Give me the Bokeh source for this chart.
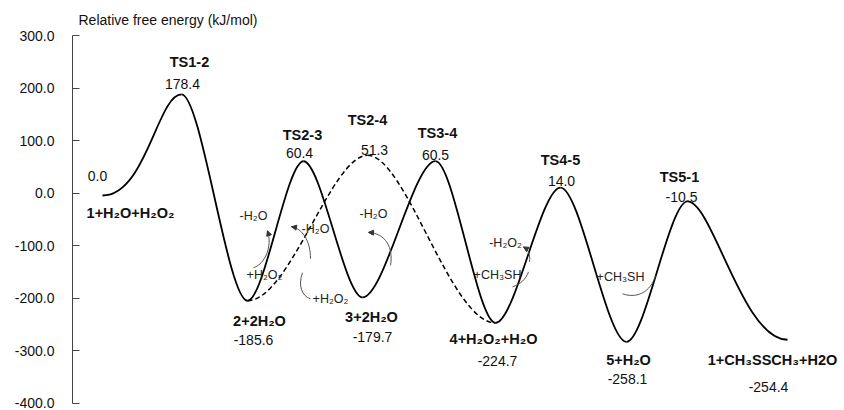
from bokeh.plotting import figure
from bokeh.models import (Range1d, LinearAxis, NumeralTickFormatter, FixedTicker,
                          ColumnDataSource, Arrow, NormalHead)
from bokeh.embed import file_html
from bokeh.resources import INLINE
from bokeh.core.properties import value

# ---------------- data ----------------
species = ["1+H₂O+H₂O₂", "TS1-2", "2+2H₂O", "TS2-3", "3+2H₂O", "TS3-4",
           "4+H₂O₂+H₂O", "TS4-5", "5+H₂O", "TS5-1", "1+CH₃SSCH₃+H2O"]
reaction_coord = [30, 109, 175, 231, 290, 363, 423, 488, 554, 615, 715]
free_energy = [0.0, 178.4, -185.6, 60.4, -179.7, 60.5, -224.7, 14.0, -258.1, -10.5, -254.4]

# alternative (dashed) path 2 -> TS2-4 -> 4
alt_species = "TS2-4"
alt_coord = 295
alt_energy = 51.3
alt_drawn_peak = 71.0      # height at which the schematic draws the TS2-4 hump
alt_from, alt_to = 2, 6    # indices of 2+2H2O and 4+H2O2+H2O

axis_title = "Relative free energy (kJ/mol)"
axis_ticks = [-400, -300, -200, -100, 0, 100, 200, 300]

# small reagent notes (text, anchor species index)
note_text = ["-H₂O", "+H₂O₂", "-H₂O", "+H₂O₂", "-H₂O", "-H₂O₂", "+CH₃SH", "+CH₃SH"]
note_anchor = [2, 2, 2, 2, 4, 6, 6, 8]

# ---------------- layout / style ----------------
W, H = 844, 410
BORDER_LEFT = 72
X_RANGE = (0, W - BORDER_LEFT)
PX_PER_Y = 0.567                       # curve scale (px per kJ/mol)
ZERO_PX = 195                          # pixel row of the 0 level
Y_TOP, Y_BOT = ZERO_PX / PX_PER_Y, -(H - ZERO_PX) / PX_PER_Y
AX_SCALE = 0.5257                      # scale of the printed axis
AX_TOP = 300 + 35 / AX_SCALE
AX_BOT = AX_TOP - H / AX_SCALE
PX_PER_X = 1.0
FONT = "Liberation Sans"

# tangent factors (start, end) of each bezier segment of the solid path
seg_k = [(0.55, 0.3)] + [(0.3, 0.3)] * 8 + [(0.25, 0.45)]
alt_k = [(0.35, 0.3), (0.3, 0.35)]

# label offsets (pixels) for name and value of each species
name_off = [(28, 17), (8, -32), (12, 20), (-1, -26), (9, 20), (2, -28),
            (-2, 16), (0, -28), (2, 18), (-8, -24), (-15, 20)]
val_off = [(-5, -20), (1, -10), (6, 39), (-4, -8), (10, 40), (0, -6),
           (2, 38), (1, -7), (1, 37), (-6, -4), (-19, 47)]
alt_name_off = (0, -35)
alt_val_off = (7, -5)
note_off = [(6, -85), (17, -26), (68, -72), (83, -2), (11, -83), (10, -80), (2, -48), (-6, -65)]

# little curved arrows: anchor, 4 bezier points as pixel offsets, arrow head
arrows = [
    (2, [(6, -33), (18, -37), (25, -55), (20, -70)], True),
    (2, [(63, -42), (63, -60), (55, -72), (44, -74)], True),
    (2, [(55, -28), (50, -15), (55, -4), (63, -2)], False),
    (4, [(28, -32), (31, -50), (23, -64), (6, -65)], True),
    (6, [(34, -61), (35, -68), (33, -73), (28, -76)], True),
    (6, [(17, -36), (25, -39), (30, -43), (33, -51)], False),
    (8, [(-4, -48), (11, -43), (24, -50), (29, -66)], False),
]

p = figure(width=W, height=H, output_backend="svg", toolbar_location=None,
           x_range=Range1d(*X_RANGE), y_range=Range1d(Y_BOT, Y_TOP),
           x_axis_location=None, y_axis_location=None,
           min_border_left=BORDER_LEFT, min_border_right=0,
           min_border_top=0, min_border_bottom=0)
p.outline_line_color = None
p.grid.visible = False
p.background_fill_color = "white"
p.border_fill_color = "white"

p.extra_y_ranges = {"ax": Range1d(AX_BOT, AX_TOP)}
ax = LinearAxis(y_range_name="ax", bounds=(axis_ticks[0], axis_ticks[-1]),
                ticker=FixedTicker(ticks=axis_ticks, minor_ticks=[]),
                formatter=NumeralTickFormatter(format="0.0"))
ax.major_tick_in = 7
ax.major_tick_out = 0
ax.minor_tick_in = 0
ax.minor_tick_out = 0
ax.axis_line_color = "#444444"
ax.major_tick_line_color = "#444444"
ax.major_label_standoff = 18
ax.major_label_text_font = FONT
ax.major_label_text_font_size = "14px"
ax.major_label_text_color = "#111111"
p.add_layout(ax, "left")


def bezier_segments(points, ks):
    cols = {c: [] for c in ("x0", "y0", "x1", "y1", "cx0", "cy0", "cx1", "cy1")}
    for ((a, ea), (b, eb)), (ka, kb) in zip(zip(points[:-1], points[1:]), ks):
        cols["x0"].append(a); cols["y0"].append(ea)
        cols["x1"].append(b); cols["y1"].append(eb)
        cols["cx0"].append(a + ka * (b - a)); cols["cy0"].append(ea)
        cols["cx1"].append(b - kb * (b - a)); cols["cy1"].append(eb)
    return ColumnDataSource(cols)


# main (solid) path
main_pts = list(zip(reaction_coord, free_energy))
p.bezier(x0="x0", y0="y0", x1="x1", y1="y1", cx0="cx0", cy0="cy0", cx1="cx1", cy1="cy1",
         source=bezier_segments(main_pts, seg_k), line_color="black", line_width=1.8)

# dashed alternative path
alt_pts = [main_pts[alt_from], (alt_coord, alt_drawn_peak), main_pts[alt_to]]
p.bezier(x0="x0", y0="y0", x1="x1", y1="y1", cx0="cx0", cy0="cy0", cx1="cx1", cy1="cy1",
         source=bezier_segments(alt_pts, alt_k), line_color="black", line_width=1.5,
         line_dash="5 3")

# species names (bold) and values
nx = reaction_coord + [alt_coord]
ny = free_energy + [alt_drawn_peak]
names = species + [alt_species]
noff = name_off + [alt_name_off]
vals = ["%.1f" % v for v in free_energy] + ["%.1f" % alt_energy]
voff = val_off + [alt_val_off]

src_names = ColumnDataSource(dict(x=nx, y=ny, t=names,
                                  xo=[o[0] for o in noff], yo=[o[1] for o in noff]))
p.text(x="x", y="y", text="t", x_offset="xo", y_offset="yo", source=src_names,
       text_font=value(FONT), text_font_style="bold", text_font_size="14.5px",
       text_align="center", text_baseline="middle", text_color="#111111")

src_vals = ColumnDataSource(dict(x=nx, y=ny, t=vals,
                                 xo=[o[0] for o in voff], yo=[o[1] for o in voff]))
p.text(x="x", y="y", text="t", x_offset="xo", y_offset="yo", source=src_vals,
       text_font=value(FONT), text_font_size="14px",
       text_align="center", text_baseline="middle", text_color="#111111")

# reagent notes
src_notes = ColumnDataSource(dict(x=[reaction_coord[a] for a in note_anchor],
                                  y=[free_energy[a] for a in note_anchor],
                                  t=note_text,
                                  xo=[o[0] for o in note_off], yo=[o[1] for o in note_off]))
p.text(x="x", y="y", text="t", x_offset="xo", y_offset="yo", source=src_notes,
       text_font=value(FONT), text_font_size="12.5px",
       text_align="center", text_baseline="middle", text_color="#222222")


# curved arrows
def to_data(anchor, off):
    return (reaction_coord[anchor] + off[0] / PX_PER_X,
            free_energy[anchor] - off[1] / PX_PER_Y)


for anchor, offs, head in arrows:
    (ax0, ay0), (acx0, acy0), (acx1, acy1), (ax1, ay1) = [to_data(anchor, o) for o in offs]
    p.bezier(x0=[ax0], y0=[ay0], x1=[ax1], y1=[ay1], cx0=[acx0], cy0=[acy0],
             cx1=[acx1], cy1=[acy1], line_color="#555555", line_width=1)
    if head:
        p.add_layout(Arrow(end=NormalHead(size=5, fill_color="#333333", line_color="#333333"),
                           x_start=acx1, y_start=acy1, x_end=ax1, y_end=ay1,
                           line_alpha=0))

# axis title at the top of the axis
p.text(x=[6], y=[AX_TOP - 19 / AX_SCALE], text=[axis_title], y_range_name="ax",
       text_font=value(FONT), text_font_size="14px",
       text_align="left", text_baseline="middle", text_color="#111111")

open("out.html", "w").write(file_html(p, INLINE))
